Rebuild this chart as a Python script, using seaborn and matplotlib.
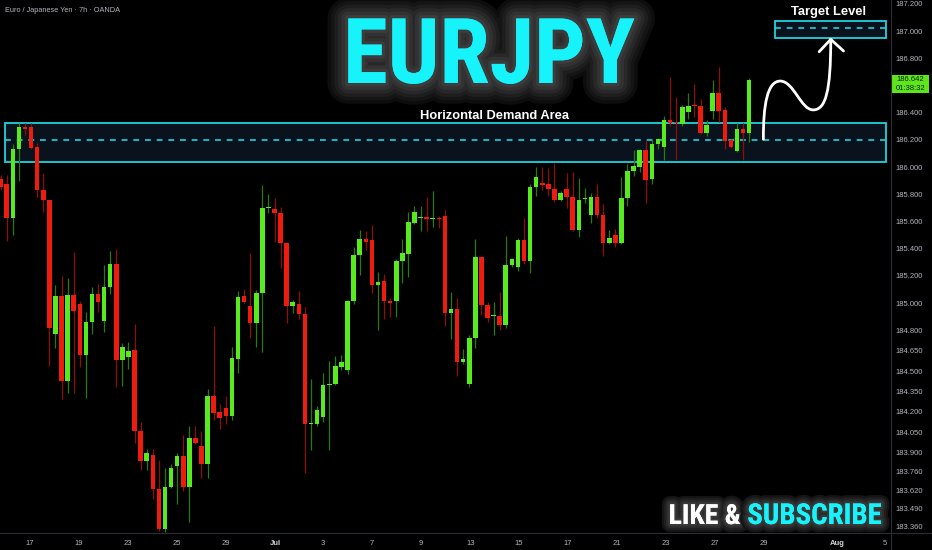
import numpy as np
import pandas as pd
import seaborn as sns
import matplotlib.pyplot as plt
import matplotlib.patheffects as pe
import matplotlib.transforms as mtransforms
from matplotlib import font_manager as fm
from matplotlib.path import Path
from matplotlib.patches import PathPatch, Rectangle
from matplotlib.lines import Line2D

# EURJPY 7h candles
opens = [185.912, 185.873, 185.627, 186.130, 186.292, 186.292, 186.145, 185.831, 185.757, 184.772,
         185.052, 184.427, 185.059, 184.993, 184.618, 184.863, 185.066, 184.870, 185.120, 185.285,
         184.581, 184.601, 184.654, 184.061, 183.838, 183.882, 183.630, 183.338, 183.645, 183.801,
         183.875, 183.649, 184.010, 183.949, 183.816, 184.318, 184.201, 184.230, 184.171, 184.588,
         185.052, 184.978, 184.855, 185.076, 185.699, 185.691, 185.664, 185.439, 184.980, 184.991,
         184.919, 184.110, 184.110, 184.160, 184.397, 184.402, 184.532, 184.507, 185.015, 185.353,
         185.471, 185.463, 185.132, 185.162, 185.015, 185.015, 185.309, 185.363, 185.590, 185.623,
         185.630, 185.620, 185.625, 185.642, 184.929, 184.956, 184.564, 184.404, 184.740, 185.336,
         184.985, 184.907, 184.907, 184.838, 185.279, 185.267, 185.463, 185.311, 185.855, 185.880,
         185.873, 185.836, 185.757, 185.836, 185.777, 185.537, 185.763, 185.647, 185.782, 185.647,
         185.439, 185.500, 185.439, 185.774, 185.971, 186.002, 186.125, 185.912, 186.167, 186.145,
         186.346, 186.326, 186.316, 186.402, 186.456, 186.449, 186.252, 186.414, 186.542, 186.419,
         186.199, 186.118, 186.279, 186.248]
highs = [185.941, 185.941, 186.167, 186.321, 186.321, 186.321, 186.174, 185.954, 185.757, 185.132,
         185.201, 185.182, 185.373, 185.017, 184.932, 185.120, 185.140, 185.279, 185.382, 185.397,
         184.704, 184.711, 184.846, 184.127, 183.924, 183.924, 183.846, 183.787, 183.816, 183.895,
         184.029, 184.096, 184.096, 184.059, 184.368, 184.831, 184.257, 184.316, 184.674, 185.088,
         185.103, 185.365, 185.096, 185.868, 185.802, 185.770, 185.704, 185.443, 185.022, 185.090,
         184.973, 184.441, 184.243, 184.487, 184.574, 184.610, 184.618, 185.022, 185.410, 185.537,
         185.532, 185.574, 185.230, 185.211, 185.035, 185.321, 185.471, 185.671, 185.713, 185.716,
         185.782, 185.824, 185.640, 185.684, 185.079, 185.035, 184.662, 184.765, 185.471, 185.341,
         185.010, 185.005, 185.083, 185.495, 185.329, 185.480, 185.623, 185.873, 186.002, 185.998,
         185.990, 186.032, 185.824, 185.958, 185.963, 185.917, 185.843, 185.807, 185.875, 185.726,
         185.537, 185.542, 185.924, 186.022, 186.125, 186.130, 186.199, 186.199, 186.211, 186.375,
         186.664, 186.517, 186.456, 186.542, 186.610, 186.498, 186.346, 186.640, 186.738, 186.443,
         186.204, 186.321, 186.321, 186.652]
lows = [185.831, 185.458, 185.500, 185.899, 186.235, 186.130, 185.777, 185.671, 184.539, 184.671,
        184.292, 184.336, 184.340, 184.527, 184.299, 184.770, 184.936, 184.789, 185.066, 184.380,
        184.390, 184.515, 183.968, 183.772, 183.772, 183.559, 183.324, 183.315, 183.640, 183.520,
        183.618, 183.392, 183.961, 183.715, 183.711, 184.140, 184.071, 184.110, 184.140, 184.487,
        184.998, 184.745, 184.674, 184.642, 185.660, 185.451, 185.255, 184.855, 184.924, 184.882,
        183.748, 183.919, 184.098, 184.127, 183.919, 184.397, 184.507, 184.478, 184.993, 185.206,
        185.390, 185.076, 184.802, 184.880, 184.899, 184.899, 185.149, 185.189, 185.581, 185.532,
        185.532, 185.561, 185.554, 184.831, 184.733, 184.466, 184.552, 184.382, 184.667, 184.912,
        184.863, 184.765, 184.802, 184.814, 185.263, 185.238, 185.287, 185.218, 185.787, 185.831,
        185.787, 185.745, 185.752, 185.696, 185.532, 185.488, 185.738, 185.590, 185.623, 185.348,
        185.434, 185.414, 185.434, 185.716, 185.934, 185.966, 185.738, 185.875, 186.130, 186.052,
        186.302, 186.052, 186.302, 186.353, 186.370, 186.243, 186.230, 186.353, 186.333, 186.130,
        186.138, 186.113, 186.052, 186.186]
closes = [185.853, 185.627, 186.130, 186.292, 186.277, 186.142, 185.831, 185.757, 184.814, 185.052,
          184.427, 185.059, 184.943, 184.618, 184.863, 185.066, 185.010, 185.120, 185.285, 184.581,
          184.679, 184.649, 184.061, 183.838, 183.899, 183.630, 183.338, 183.645, 183.789, 183.875,
          183.649, 184.010, 183.968, 183.816, 184.318, 184.193, 184.157, 184.171, 184.593, 185.042,
          185.005, 184.855, 185.071, 185.696, 185.708, 185.660, 185.439, 184.980, 185.010, 184.919,
          184.110, 184.120, 184.213, 184.397, 184.404, 184.537, 184.568, 185.017, 185.353, 185.471,
          185.451, 185.132, 185.157, 185.015, 185.002, 185.309, 185.365, 185.593, 185.671, 185.630,
          185.620, 185.625, 185.620, 184.929, 184.956, 184.564, 184.588, 184.743, 185.336, 184.985,
          184.888, 184.912, 184.838, 185.279, 185.321, 185.463, 185.311, 185.855, 185.929, 185.870,
          185.836, 185.757, 185.811, 185.777, 185.537, 185.757, 185.774, 185.782, 185.647, 185.439,
          185.476, 185.439, 185.774, 185.971, 186.010, 186.125, 185.904, 186.167, 186.204, 186.346,
          186.326, 186.321, 186.443, 186.449, 186.449, 186.252, 186.309, 186.542, 186.414, 186.193,
          186.145, 186.279, 186.248, 186.642]

date_labels = ['17', '19', '23', '25', '29', 'Jul', '3', '7', '9', '13', '15', '17',
               '21', '23', '27', '29', 'Aug', '5']
date_pos = [4.8, 12.9, 20.9, 29.0, 37.0, 45.1, 53.0, 61.0, 69.1, 77.3, 85.2, 93.2,
            101.3, 109.3, 117.4, 125.4, 137.4, 145.3]
price_ticks = [187.2, 187.0, 186.8, 186.4, 186.2, 186.0, 185.8, 185.6, 185.4, 185.2, 185.0,
               184.8, 184.65, 184.5, 184.35, 184.2, 184.05, 183.9, 183.76, 183.62, 183.49, 183.36]

demand_low, demand_mid, demand_high = 186.035, 186.2, 186.32
target_low, target_mid, target_high = 186.946, 187.02, 187.074
last_price = 186.642
countdown = '01:38:32'

GREEN, RED = '#55eb1c', '#f01b0f'
GREEN_WICK, RED_WICK = '#2b7a0e', '#8e0e0a'
CYAN = '#1fd3df'
TITLE_CYAN = '#17f3fb'
GREY = '#b2b5be'


def condensed_bold():
    # look for a narrow bold face among the installed fonts
    prefs = ['Liberation Sans Narrow', 'DejaVu Sans Condensed', 'Roboto Condensed',
             'Open Sans Condensed', 'Noto Sans Condensed', 'DejaVu Sans']
    for name in prefs:
        for f in fm.fontManager.ttflist:
            narrow = ('Narrow' in f.name or 'Condensed' in f.name
                      or 'ondensed' in str(f.stretch) or 'Condensed' in f.fname)
            if f.name == name and f.weight in ('bold', 700) and narrow and f.style == 'normal':
                return fm.FontProperties(fname=f.fname)
    return fm.FontProperties(family='DejaVu Sans', weight='bold')


def soft_glow(widths, shades):
    fx = [pe.withStroke(linewidth=w, foreground=c, joinstyle='round', capstyle='round')
          for w, c in zip(widths, shades)]
    return fx + [pe.Normal()]


df = pd.DataFrame({'open': opens, 'high': highs, 'low': lows, 'close': closes})
df['idx'] = np.arange(len(df))
df['up'] = df['close'] >= df['open']

sns.set_theme(style='dark', rc={'axes.facecolor': 'black', 'figure.facecolor': 'black',
                                'axes.grid': False})
plt.rcParams['font.family'] = ['Liberation Sans', 'DejaVu Sans']

fig = plt.figure(figsize=(9.32, 5.5), dpi=100)
ax = fig.add_axes([0, 17 / 550, 891 / 932, 533 / 550])
ax.set_facecolor('black')

# demand zone + target zone
ax.add_patch(Rectangle((0.76, demand_low), 144.7, demand_high - demand_low,
                       facecolor='#0a121d', edgecolor=CYAN, lw=1.3, zorder=1))
ax.hlines(demand_mid, 0.76, 145.46, colors=CYAN, linestyles=(0, (3.5, 3.5)), lw=1.2, zorder=1.5)
ax.add_patch(Rectangle((127.2, target_low), 18.3, target_high - target_low,
                       facecolor='#0a121d', edgecolor=CYAN, lw=1.3, zorder=1))
ax.hlines(target_mid, 127.2, 145.5, colors=CYAN, linestyles=(0, (3.5, 3.5)), lw=1.2, zorder=1.5)

# candles
wick_cols = np.where(df['up'], GREEN_WICK, RED_WICK)
body_cols = np.where(df['up'], GREEN, RED)
ax.vlines(df['idx'], df['low'], df['high'], colors=wick_cols, lw=0.9, zorder=2)
body_lo = df[['open', 'close']].min(axis=1)
body_h = (df['close'] - df['open']).abs().clip(lower=0.008)
ax.bar(df['idx'], body_h, bottom=body_lo, width=0.75, color=body_cols, lw=0, zorder=3)

ax.set_xlim(-0.11, 146.3)
ax.set_ylim(183.309, 187.228)

# axes styling
ax.yaxis.tick_right()
ax.set_yticks(price_ticks, [f'{v:.3f}' for v in price_ticks])
ax.set_xticks(date_pos, date_labels)
ax.tick_params(axis='both', length=0, labelsize=5.5, labelcolor=GREY)
ax.tick_params(axis='y', pad=3)
ax.tick_params(axis='x', pad=5)
for lab in ax.get_xticklabels():
    if lab.get_text() in ('Jul', 'Aug'):
        lab.set_fontweight('bold')
        lab.set_color('#d1d4dc')
for s in ax.spines.values():
    s.set_visible(False)
fig.add_artist(Line2D([891 / 932, 891 / 932], [0, 1], color='#2a2e39', lw=0.8))
fig.add_artist(Line2D([0, 1], [17 / 550, 17 / 550], color='#2a2e39', lw=0.8))

# last price tag
blend = mtransforms.blended_transform_factory(ax.transAxes, ax.transData)
ax.add_patch(Rectangle((1.0005, last_price - 0.098), 38 / 891, 0.133, transform=blend,
                       facecolor='#5de619', edgecolor='none', clip_on=False, zorder=5))
ax.text(1.0 + 19.5 / 891, last_price, f'{last_price:.3f}', transform=blend, ha='center',
        va='center', fontsize=5.5, color='#0c2206', zorder=6, clip_on=False)
ax.text(1.0 + 19.5 / 891, last_price - 0.064, countdown, transform=blend, ha='center',
        va='center', fontsize=5.5, color='#0c2206', zorder=6, clip_on=False)

# labels on chart
ax.text(81.2, 186.375, 'Horizontal Demand Area', ha='center', va='center', fontsize=9.3,
        fontweight='bold', color='white', zorder=4)
ax.text(136.1, 187.14, 'Target Level', ha='center', va='center', fontsize=9.3,
        fontweight='bold', color='white', zorder=4)

# hand-drawn arrow towards the target
verts = [(125.33, 186.204),
         (125.3, 186.46), (126.0, 186.632), (128.1, 186.632),
         (130.3, 186.632), (131.5, 186.42), (133.5, 186.42),
         (135.6, 186.42), (136.4, 186.56), (136.4, 186.939)]
codes = [Path.MOVETO] + [Path.CURVE4] * 9
ax.add_patch(PathPatch(Path(verts, codes), fill=False, edgecolor='white', lw=2.0,
                       capstyle='round', zorder=6))
ax.plot([134.5, 136.4, 138.5], [186.848, 186.939, 186.853], color='white', lw=2.0,
        solid_capstyle='round', solid_joinstyle='round', zorder=6)

# header + big titles
fig.text(5 / 932, 1 - 10 / 550, 'Euro / Japanese Yen · 7h · OANDA', fontsize=5.3,
         color=GREY, va='center', ha='left')

big_font = condensed_bold()
glow = soft_glow([30, 25, 20, 15, 10, 5],
                 ['#0d0d0d', '#151515', '#1e1e1e', '#282828', '#323232', '#3c3c3c'])
glow_small = soft_glow([12, 9, 6, 3], ['#141414', '#1f1f1f', '#2c2c2c', '#393939'])

title = fig.text(489 / 932, 1 - 83 / 550, 'EURJPY', fontproperties=big_font, fontsize=68,
                 color=TITLE_CYAN, ha='center', va='baseline', path_effects=glow)
like = fig.text(741 / 932, 1 - 524 / 550, 'LIKE &', fontproperties=big_font, fontsize=21,
                color='white', ha='right', va='baseline', path_effects=glow_small)
sub = fig.text(882 / 932, 1 - 524 / 550, 'SUBSCRIBE', fontproperties=big_font, fontsize=21,
               color=TITLE_CYAN, ha='right', va='baseline', path_effects=glow_small)

# scale the display texts to the widths they have in the picture
fig.canvas.draw()
renderer = fig.canvas.get_renderer()
for txt, width_px, height_px in [(title, 292, 72), (like, 72, 23), (sub, 134, 23)]:
    ext = txt.get_window_extent(renderer)
    scale = min(width_px / ext.width, 1.25 * height_px / (0.72 * txt.get_fontsize() * 100 / 72))
    txt.set_fontsize(txt.get_fontsize() * scale)

fig.savefig('out.png', dpi=100, facecolor='black')
